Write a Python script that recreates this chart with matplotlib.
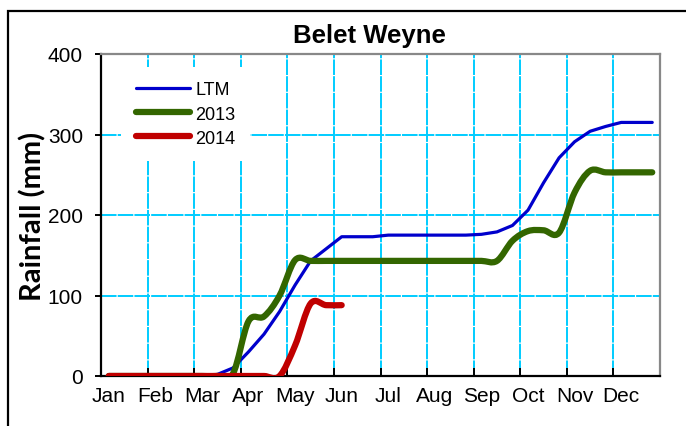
import numpy as np
import matplotlib
matplotlib.use("Agg")
from matplotlib import pyplot as plt
from matplotlib.path import Path
from matplotlib.patches import PathPatch, Rectangle
from matplotlib.lines import Line2D

# ========== DATA : cumulative dekadal rainfall (mm) ==========
months = ["Jan", "Feb", "Mar", "Apr", "May", "Jun",
          "Jul", "Aug", "Sep", "Oct", "Nov", "Dec"]

ltm = [0, 0, 0, 0, 0, 0, 0, 2, 10, 30, 52, 80,
       113, 143, 158, 173, 173, 173, 175, 175, 175, 175, 175, 175,
       176, 179, 187, 206, 240, 271, 291, 304, 310, 315, 315, 315]

rain_2013 = [0, 0, 0, 0, 0, 0, 0, 0, 3, 68, 74, 100,
             144, 143, 143, 143, 143, 143, 143, 143, 143, 143, 143, 143,
             143, 143, 168, 180, 181, 178, 228, 255, 253, 253, 253, 253]

rain_2014 = [0, 0, 0, 0, 0, 0, 0, 0, 0, 0, 0, 0,
             38, 90, 88, 88]

C_LTM = "#0000CC"
C_2013 = "#336600"
C_2014 = "#C00000"
C_GRID = "#00CCFF"


def smooth_path(ys):
    # excel-style smoothed line (catmull-rom as cubic bezier)
    pts = np.column_stack([np.arange(len(ys)), ys]).astype(float)
    n = len(pts)
    verts = [pts[0]]
    codes = [Path.MOVETO]
    for i in range(n - 1):
        p0 = pts[max(i - 1, 0)]
        p1 = pts[i]
        p2 = pts[i + 1]
        p3 = pts[min(i + 2, n - 1)]
        verts += [p1 + (p2 - p0) / 6, p2 - (p3 - p1) / 6, p2]
        codes += [Path.CURVE4] * 3
    return Path(verts, codes)


plt.rcParams["font.family"] = ["Liberation Sans", "DejaVu Sans"]

fig = plt.figure(figsize=(6.86, 4.27), dpi=100)
ax = fig.add_axes([101 / 686, 1 - 377 / 427, 559 / 686, 322 / 427])

# outer chart border
fig.patches.append(Rectangle((8 / 686, -0.2), 1.2, 1.2 - 12 / 427,
                             transform=fig.transFigure, fill=False,
                             edgecolor="black", lw=1.6))

ax.plot(range(len(ltm)), ltm, color=C_LTM, lw=2.3, zorder=3,
        solid_joinstyle="round", solid_capstyle="round")
ax.add_patch(PathPatch(smooth_path(rain_2013), fill=False, edgecolor=C_2013,
                       lw=4.5, capstyle="round", joinstyle="round", zorder=4))
ax.add_patch(PathPatch(smooth_path(rain_2014), fill=False, edgecolor=C_2014,
                       lw=4.5, capstyle="round", joinstyle="round", zorder=5))

ax.set_xlim(-0.5, 35.5)
ax.set_ylim(0, 400)

# month boundaries as major ticks, labels on first dekad of month
ax.set_xticks(np.arange(-0.5, 36, 3))
ax.set_xticklabels([])
ax.set_xticks(np.arange(0, 36, 3), minor=True)
ax.set_xticklabels(months, minor=True, fontsize=15)
ax.tick_params(axis="x", which="major", direction="in", length=6, width=1.4)
ax.tick_params(axis="x", which="minor", length=0, pad=7)
ax.set_yticks([0, 100, 200, 300, 400])
ax.tick_params(axis="y", direction="out", length=4, width=1.4, labelsize=15, pad=9)

ax.grid(True, which="major", color=C_GRID, lw=1.4, ls=(0, (8, 0.6)), zorder=1)
ax.set_axisbelow(True)

for s in ["left", "bottom"]:
    ax.spines[s].set_linewidth(1.6)
    ax.spines[s].set_color("black")
for s in ["top", "right"]:
    ax.spines[s].set_linewidth(1.6)
    ax.spines[s].set_color("#888888")

ax.set_title("Belet Weyne", fontsize=18.5, fontweight="bold", pad=9, x=0.48)
ax.set_ylabel("Rainfall (mm)", fontsize=21, fontweight="bold",
              family=["Lato", "DejaVu Sans"], labelpad=1)

handles = [Line2D([], [], color=C_LTM, lw=2.3, solid_capstyle="round"),
           Line2D([], [], color=C_2013, lw=4.5, solid_capstyle="round"),
           Line2D([], [], color=C_2014, lw=4.5, solid_capstyle="round")]
leg = ax.legend(handles, ["LTM", "2013", "2014"], loc="upper left",
                bbox_to_anchor=(0.036, 0.96), borderaxespad=0,
                fontsize=13, frameon=True, facecolor="white", edgecolor="none",
                framealpha=1, fancybox=False, handlelength=3.0,
                handletextpad=0.3, labelspacing=0.4, borderpad=0.8)
leg.set_zorder(6)

fig.savefig("out.png", dpi=100)
